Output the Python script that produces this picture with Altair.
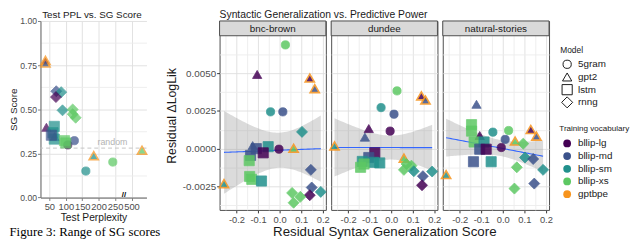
import altair as alt
import numpy as np
import pandas as pd

FONT = "Liberation Sans"
TXT = "#1a1a1a"
LAB = "#4d4d4d"

vocab_domain = ["bllip-lg", "bllip-md", "bllip-sm", "bllip-xs", "gptbpe"]
vocab_colors = ["#440154", "#3b528b", "#21908c", "#5dc863", "#f7941d"]
models = ["5gram", "gpt2", "lstm", "rnng"]
model_shapes = ["circle", "triangle-up", "square", "diamond"]
model_sizes = [70, 125, 70, 115]

# ---------------- left panel: Test PPL vs SG score ----------------
# x is the position on the broken perplexity axis (tick at 300 is labelled 500)
left_model = ["5gram", "5gram", "5gram", "5gram",
              "gpt2", "gpt2", "gpt2", "gpt2", "gpt2", "gpt2",
              "lstm", "lstm", "lstm", "lstm", "lstm", "lstm",
              "rnng", "rnng", "rnng", "rnng", "rnng", "rnng", "rnng"]
left_corpus = ["bllip-lg", "bllip-md", "bllip-sm", "bllip-xs",
               "bllip-lg", "bllip-md", "bllip-lg", "bllip-md", "bllip-sm", "bllip-xs",
               "bllip-sm", "bllip-sm", "bllip-sm", "bllip-md", "bllip-xs", "bllip-xs",
               "bllip-md", "bllip-sm", "bllip-lg", "bllip-sm", "bllip-xs", "bllip-xs", "bllip-xs"]
left_vocab = ["bllip-lg", "bllip-md", "bllip-sm", "bllip-xs",
              "bllip-lg", "bllip-md", "gptbpe", "gptbpe", "gptbpe", "gptbpe",
              "bllip-sm", "bllip-sm", "bllip-sm", "bllip-md", "bllip-xs", "bllip-xs",
              "bllip-md", "bllip-sm", "bllip-lg", "bllip-sm", "bllip-xs", "bllip-xs", "bllip-xs"]
left_ppl = [106, 126, 161, 243,
            41, 66, 38, 38, 185, 332,
            65, 61, 65, 56, 96, 100,
            71, 86, 70, 90, 121, 121, 130]
left_sg = [0.298, 0.322, 0.150, 0.201,
           0.398, 0.345, 0.777, 0.762, 0.237, 0.268,
           0.403, 0.367, 0.331, 0.353, 0.322, 0.309,
           0.602, 0.597, 0.569, 0.494, 0.499, 0.472, 0.452]
ppl_ticks = [50, 100, 150, 200, 250, 300]
sg_grid = [0, 0.125, 0.25, 0.375, 0.5, 0.625, 0.75, 0.875, 1.0]
random_level = 0.28

# ---------------- right panels ----------------
bnc_model = ["5gram"] * 4 + ["gpt2"] * 6 + ["lstm"] * 8 + ["rnng"] * 8
bnc_corpus = ["bllip-xs", "bllip-sm", "bllip-md", "bllip-lg",
              "bllip-lg", "bllip-md", "bllip-lg", "bllip-md", "bllip-xs", "bllip-sm",
              "bllip-md", "bllip-md", "bllip-sm", "bllip-lg", "bllip-xs", "bllip-xs", "bllip-xs", "bllip-sm",
              "bllip-sm", "bllip-md", "bllip-md", "bllip-sm", "bllip-lg", "bllip-xs", "bllip-xs", "bllip-xs"]
bnc_vocab = ["bllip-xs", "bllip-sm", "bllip-md", "bllip-lg",
             "bllip-lg", "bllip-md", "gptbpe", "gptbpe", "gptbpe", "gptbpe",
             "bllip-md", "bllip-md", "bllip-sm", "bllip-lg", "bllip-xs", "bllip-xs", "bllip-xs", "bllip-sm",
             "bllip-sm", "bllip-md", "bllip-md", "bllip-sm", "bllip-lg", "bllip-xs", "bllip-xs", "bllip-xs"]
bnc_x = [0.027, -0.042, 0.015, -0.003,
         -0.104, -0.125, 0.140, 0.163, 0.065, -0.258,
         -0.135, -0.108, -0.053, -0.076, -0.141, -0.139, -0.129, -0.084,
         0.104, 0.145, 0.149, 0.191, 0.140, 0.058, 0.096, 0.065]
bnc_y = [0.00688, 0.00244, 0.00244, -0.00004,
         0.00492, 0.00020, 0.00468, 0.00398, 0.00002, -0.00232,
         -0.00045, 0.00000, 0.00013, -0.00028, -0.00080, -0.00185, -0.00204, -0.00215,
         0.00111, -0.00141, -0.00258, -0.00287, -0.00309, -0.00294, -0.00320, -0.00359]

dun_model = ["5gram"] * 4 + ["gpt2"] * 6 + ["lstm"] * 7 + ["rnng"] * 7
dun_corpus = ["bllip-xs", "bllip-sm", "bllip-md", "bllip-lg",
              "bllip-lg", "bllip-md", "bllip-lg", "bllip-md", "bllip-sm", "bllip-xs",
              "bllip-lg", "bllip-md", "bllip-sm", "bllip-sm", "bllip-sm", "bllip-xs", "bllip-xs",
              "bllip-xs", "bllip-xs", "bllip-xs", "bllip-sm", "bllip-md", "bllip-sm", "bllip-lg"]
dun_vocab = ["bllip-xs", "bllip-sm", "bllip-md", "bllip-lg",
             "bllip-lg", "bllip-md", "gptbpe", "gptbpe", "gptbpe", "gptbpe",
             "bllip-lg", "bllip-md", "bllip-sm", "bllip-sm", "bllip-sm", "bllip-xs", "bllip-xs",
             "bllip-xs", "bllip-xs", "bllip-xs", "bllip-sm", "bllip-md", "bllip-sm", "bllip-lg"]
dun_x = [0.027, -0.047, 0.013, -0.005,
         -0.104, -0.122, 0.140, 0.159, -0.263, 0.059,
         -0.076, -0.104, -0.134, -0.081, -0.053, -0.142, -0.126,
         0.071, 0.059, 0.094, 0.105, 0.147, 0.190, 0.143]
dun_y = [0.00383, 0.00272, 0.00228, 0.00116,
         0.00133, 0.00076, 0.00350, 0.00322, 0.00018, -0.00063,
         -0.00028, -0.00059, -0.00085, -0.00091, -0.00095, -0.00124, -0.00102,
         -0.00102, -0.00141, -0.00113, -0.00150, -0.00183, -0.00152, -0.00243]

nat_model = ["5gram"] * 4 + ["gpt2"] * 6 + ["lstm"] * 8 + ["rnng"] * 7
nat_corpus = ["bllip-sm", "bllip-xs", "bllip-md", "bllip-lg",
              "bllip-md", "bllip-lg", "bllip-lg", "bllip-md", "bllip-xs", "bllip-sm",
              "bllip-xs", "bllip-xs", "bllip-xs", "bllip-sm", "bllip-md", "bllip-lg", "bllip-md", "bllip-sm",
              "bllip-xs", "bllip-sm", "bllip-md", "bllip-sm", "bllip-xs", "bllip-md", "bllip-xs"]
nat_vocab = ["bllip-sm", "bllip-xs", "bllip-md", "bllip-lg",
             "bllip-md", "bllip-lg", "gptbpe", "gptbpe", "gptbpe", "gptbpe",
             "bllip-xs", "bllip-xs", "bllip-xs", "bllip-sm", "bllip-md", "bllip-lg", "bllip-md", "bllip-sm",
             "bllip-xs", "bllip-sm", "bllip-md", "bllip-sm", "bllip-xs", "bllip-md", "bllip-xs"]
nat_x = [-0.046, 0.027, 0.011, -0.007,
         -0.122, -0.107, 0.130, 0.156, 0.057, -0.263,
         -0.145, -0.145, -0.133, -0.087, -0.107, -0.077, -0.136, -0.054,
         0.095, 0.103, 0.141, 0.187, 0.065, 0.146, 0.054]
nat_y = [0.00109, 0.00120, 0.00061, 0.00007,
         0.00294, 0.00087, 0.00127, 0.00083, 0.00050, -0.00172,
         0.00159, 0.00116, 0.00044, 0.00044, -0.00004, -0.00004, -0.00087, -0.00087,
         0.00033, -0.00059, -0.00069, -0.00141, -0.00124, -0.00232, -0.00265]

x_grid = [-0.25, -0.2, -0.15, -0.1, -0.05, 0.0, 0.05, 0.1, 0.15, 0.2]
y_grid = [-0.00375, -0.0025, -0.00125, 0.0, 0.00125, 0.0025, 0.00375, 0.005, 0.00625]

# ---------------- geometry ----------------
LW, LH = 107.7, 179.4
PW, PH = 108, 192
HDR = 15
GAP_LEFT = 74
GAP_PANEL = 5.4
LEG_W = 70
PPL_DOM = [22.9, 345.5]
X_DOM = [-0.2785, 0.2146]
Y_DOM = [-0.004067, 0.008466]

# page position wanted for the left plot's top-left corner, page size limits
VIEW_X, VIEW_Y = 40.0, 18.3
PAGE_MARGIN = 8
SVG_W, SVG_H = 632, 232
A_TL = (-60, -40)        # off-page anchor, top-left (relative to left view)
A_BR = (200, 300)        # off-page anchor, bottom-right (relative to legend view)

GRID_MAJOR = "#dedede"
GRID_MINOR = "#ececec"

color_scale = alt.Scale(domain=vocab_domain, range=vocab_colors)
shape_scale = alt.Scale(domain=models, range=model_shapes)
size_scale = alt.Scale(domain=models, range=model_sizes)


def smooth(xs, ys, n=60):
    x = np.asarray(xs, float)
    y = np.asarray(ys, float)
    N = len(x)
    xm = x.mean()
    sxx = ((x - xm) ** 2).sum()
    b = ((x - xm) * (y - y.mean())).sum() / sxx
    a = y.mean() - b * xm
    s = np.sqrt(((y - (a + b * x)) ** 2).sum() / (N - 2))
    df = N - 2
    z = 1.959964
    t = z + (z ** 3 + z) / (4 * df) + (5 * z ** 5 + 16 * z ** 3 + 3 * z) / (96 * df ** 2)
    g = np.linspace(x.min(), x.max(), n)
    fit = a + b * g
    se = s * np.sqrt(1.0 / N + (g - xm) ** 2 / sxx)
    return pd.DataFrame({"x": g, "fit": fit, "lo": fit - t * se, "hi": fit + t * se})


def point_enc(xenc, yenc):
    return dict(
        x=xenc, y=yenc,
        shape=alt.Shape("model:N", scale=shape_scale, legend=None),
        size=alt.Size("model:N", scale=size_scale, legend=None),
        fill=alt.Fill("corpus:N", scale=color_scale, legend=None),
        stroke=alt.Stroke("vocab:N", scale=color_scale, legend=None),
        strokeWidth=alt.condition(alt.datum.vocab == "gptbpe", alt.value(1.6), alt.value(0.8)),
    )


def anchor(pos):
    return alt.Chart(pd.DataFrame({"a": [0]})).mark_rect(color="white").encode(
        x=alt.value(pos[0]), x2=alt.value(pos[0] + 1), y=alt.value(pos[1]), y2=alt.value(pos[1] + 1))


def gridcolor(test):
    return {"condition": {"test": test, "value": GRID_MAJOR}, "value": GRID_MINOR}


# ---------- left chart ----------
left_df = pd.DataFrame({"model": left_model, "corpus": left_corpus, "vocab": left_vocab,
                        "ppl": left_ppl, "sg": left_sg})
major4 = "abs(datum.value*4 - round(datum.value*4)) < 0.01"
xL = alt.X("ppl:Q", scale=alt.Scale(domain=PPL_DOM, nice=False, zero=False),
           axis=alt.Axis(values=ppl_ticks, labelExpr="datum.value == 300 ? '500' : format(datum.value, 'd')",
                         grid=True, gridColor=GRID_MAJOR, gridWidth=0.9,
                         title="Test Perplexity", titleFontSize=10.4, titlePadding=2, labelFontSize=9.5,
                         labelPadding=1, labelFlush=False, labelOverlap=False,
                         domainColor="#7f7f7f", domainWidth=1.3, tickColor="#7f7f7f", tickSize=3))
yL = alt.Y("sg:Q", scale=alt.Scale(domain=[0, 1], nice=False, zero=False),
           axis=alt.Axis(values=sg_grid,
                         labelExpr=major4 + " ? format(datum.value, '.2f') : ''",
                         tickOpacity={"condition": {"test": major4, "value": 1}, "value": 0},
                         grid=True, gridColor=gridcolor(major4), gridWidth=0.9,
                         title="SG Score", titleFontSize=10, titlePadding=1, labelFontSize=8.8,
                         labelPadding=1, labelFlush=False, labelOverlap=False,
                         domainColor="#7f7f7f", domainWidth=1.3, tickColor="#7f7f7f", tickSize=3))

left_pts = alt.Chart(left_df).mark_point(filled=True, opacity=0.72).encode(**point_enc(xL, yL))
rand_rule = alt.Chart(pd.DataFrame({"sg": [random_level]})).mark_rule(
    color="#c4c4c4", strokeDash=[4, 3], strokeWidth=1).encode(y=yL)
rand_text = alt.Chart(pd.DataFrame({"ppl": [242], "sg": [random_level], "t": ["random"]})).mark_text(
    baseline="bottom", dy=-1, color="#b3b3b3", fontSize=9).encode(x=xL, y=yL, text="t:N")
brk_text = alt.Chart(pd.DataFrame({"ppl": [277], "sg": [0.0], "t": ["//"]})).mark_text(
    baseline="bottom", dy=1, color="#000000", fontSize=8, fontWeight="bold").encode(x=xL, y=yL, text="t:N")
left_title = alt.Chart(pd.DataFrame({"t": ["Test PPL vs. SG Score"]})).mark_text(
    fontSize=10, color=TXT, baseline="alphabetic", align="center").encode(
    x=alt.value(LW / 2 - 1.5), y=alt.value(-3), text="t:N")
caption = alt.Chart(pd.DataFrame({"t": ["Figure 3: Range of SG scores"]})).mark_text(
    fontSize=13, font="Liberation Serif", color="#000000", baseline="alphabetic", align="left").encode(
    x=alt.value(-31.5), y=alt.value(218.5), text="t:N")

left = alt.layer(anchor(A_TL), rand_rule, rand_text, left_pts, brk_text, left_title, caption).properties(
    width=LW, height=LH, view=alt.ViewBackground(stroke="transparent"))

# ---------- facet panels ----------
major10 = "abs(datum.value*10 - round(datum.value*10)) < 0.01"
major400 = "abs(datum.value*400 - round(datum.value*400)) < 0.01"


def panel(name, model, corpus, vocab, xs, ys, first=False, middle=False):
    df = pd.DataFrame({"model": model, "corpus": corpus, "vocab": vocab, "x": xs, "y": ys})
    sm = smooth(xs, ys)
    xax = alt.Axis(values=x_grid,
                   labelExpr=major10 + " ? (datum.value < -1e-9 ? '-' + format(-datum.value, '.1f') : format(abs(datum.value), '.1f')) : ''",
                   tickOpacity={"condition": {"test": major10, "value": 1}, "value": 0},
                   grid=True, gridColor=gridcolor(major10), gridWidth=0.9,
                   title="Residual Syntax Generalization Score" if middle else None,
                   titleFontSize=13.5, titlePadding=1, labelFontSize=9.5, labelPadding=2,
                   labelFlush=False, labelOverlap=False, domain=False, tickColor="#333333", tickSize=3)
    yax = alt.Axis(values=y_grid,
                   labelExpr=major400 + " ? (datum.value < -1e-9 ? '-' + format(-datum.value, '.4f') : format(abs(datum.value), '.4f')) : ''",
                   tickOpacity={"condition": {"test": major400, "value": 1 if first else 0}, "value": 0},
                   grid=True, gridColor=gridcolor(major400), gridWidth=0.9,
                   labels=first, title="Residual \u0394LogLik" if first else None,
                   titleFontSize=12.5, titlePadding=4, labelFontSize=10, labelPadding=1,
                   labelFlush=False, labelOverlap=False, domain=False, tickColor="#333333", tickSize=3)
    xsc = alt.Scale(domain=X_DOM, nice=False, zero=False)
    ysc = alt.Scale(domain=Y_DOM, nice=False, zero=False)
    band = alt.Chart(sm).mark_area(color="#999999", opacity=0.35).encode(
        x=alt.X("x:Q", scale=xsc, axis=xax), y=alt.Y("lo:Q", scale=ysc, axis=yax), y2="hi:Q")
    line = alt.Chart(sm).mark_line(color="#3366ff", strokeWidth=1.1).encode(
        x=alt.X("x:Q", scale=xsc, axis=xax), y=alt.Y("fit:Q", scale=ysc, axis=yax))
    pts = alt.Chart(df).mark_point(filled=True, opacity=0.85).encode(
        **point_enc(alt.X("x:Q", scale=xsc, axis=xax), alt.Y("y:Q", scale=ysc, axis=yax)))
    hdf = pd.DataFrame({"t": [name]})
    head = alt.Chart(hdf).mark_rect(fill="#d9d9d9", stroke="#4d4d4d", strokeWidth=1).encode(
        x=alt.value(0), x2=alt.value(PW), y=alt.value(0), y2=alt.value(HDR))
    htext = alt.Chart(hdf).mark_text(fontSize=10, color=TXT, baseline="middle").encode(
        x=alt.value(PW / 2), y=alt.value(HDR / 2 + 0.5), text="t:N")
    layers = [band, line, pts, head, htext]
    if first:
        ttl = alt.Chart(pd.DataFrame({"t": ["Syntactic Generalization vs. Predictive Power"]})).mark_text(
            fontSize=10.5, color=TXT, align="left", baseline="alphabetic").encode(
            x=alt.value(0), y=alt.value(-3), text="t:N")
        layers.append(ttl)
    return alt.layer(*layers).properties(width=PW, height=PH)


bnc = panel("bnc-brown", bnc_model, bnc_corpus, bnc_vocab, bnc_x, bnc_y, first=True)
dun = panel("dundee", dun_model, dun_corpus, dun_vocab, dun_x, dun_y, middle=True)
nat = panel("natural-stories", nat_model, nat_corpus, nat_vocab, nat_x, nat_y)

# ---------- legend ----------
leg_m = pd.DataFrame({"model": models, "mi": list(range(len(models)))})
leg_v = pd.DataFrame({"vocab": vocab_domain, "vi": list(range(len(vocab_domain)))})
ym = alt.Y("mi:Q", scale=alt.Scale(domain=[0, 3], range=[44, 82.7]), axis=None)
yv = alt.Y("vi:Q", scale=alt.Scale(domain=[0, 4], range=[124.4, 176]), axis=None)
leg_layers = [
    anchor(A_BR),
    alt.Chart(pd.DataFrame({"t": ["Model"]})).mark_text(fontSize=8.5, color=TXT, align="left", baseline="middle").encode(
        x=alt.value(6), y=alt.value(29.4), text="t:N"),
    alt.Chart(leg_m).mark_point(filled=False, color="#1a1a1a", strokeWidth=1, opacity=1).encode(
        x=alt.value(13), y=ym,
        shape=alt.Shape("model:N", scale=shape_scale, legend=None),
        size=alt.Size("model:N", scale=alt.Scale(domain=models, range=[60, 105, 55, 95]), legend=None)),
    alt.Chart(leg_m).mark_text(fontSize=10, color=TXT, align="left", baseline="middle").encode(
        x=alt.value(24), y=ym, text="model:N"),
    alt.Chart(pd.DataFrame({"t": ["Training vocabulary"]})).mark_text(fontSize=8.2, color=TXT, align="left", baseline="middle").encode(
        x=alt.value(5), y=alt.value(109.4), text="t:N"),
    alt.Chart(leg_v).mark_point(filled=True, size=62, shape="circle", opacity=1).encode(
        x=alt.value(13), y=yv, fill=alt.Fill("vocab:N", scale=color_scale, legend=None)),
    alt.Chart(leg_v).mark_text(fontSize=10, color=TXT, align="left", baseline="middle").encode(
        x=alt.value(24), y=yv, text="vocab:N"),
]
legend = alt.layer(*leg_layers).resolve_scale(y="independent").properties(
    width=LEG_W, height=PH, view=alt.ViewBackground(stroke="transparent"))

# ---------- padding so that the left view sits where wanted and the svg fits the page ----------
pad_left = (VIEW_X - PAGE_MARGIN) + A_TL[0]
pad_top = (VIEW_Y - PAGE_MARGIN) + A_TL[1]
leg_x = LW + GAP_LEFT + 3 * PW + 3 * GAP_PANEL          # legend view x, relative to left view
bounds_w = (leg_x + A_BR[0] + 1) - A_TL[0]
bounds_h = (A_BR[1] + 1) - A_TL[1]
pad_right = SVG_W - bounds_w - pad_left
pad_bottom = SVG_H - bounds_h - pad_top

right = alt.hconcat(bnc, dun, nat, legend, spacing=GAP_PANEL, bounds="flush")
chart = alt.hconcat(left, right, spacing=GAP_LEFT, bounds="flush").properties(
    padding={"left": pad_left, "top": pad_top, "right": pad_right, "bottom": pad_bottom}
).configure(font=FONT).configure_view(stroke="#4d4d4d", strokeWidth=1).configure_axis(
    labelColor=LAB, titleColor=TXT, titleFontWeight="normal", labelFont=FONT, titleFont=FONT)

chart.save("out.html", embed_options={"renderer": "svg", "actions": False})
